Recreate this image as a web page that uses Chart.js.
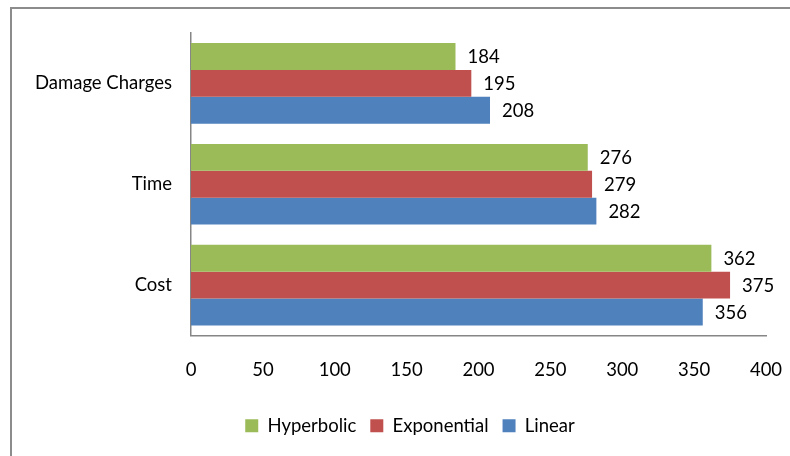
<!DOCTYPE html>
<html>
<head>
<meta charset="utf-8">
<script src="https://cdn.jsdelivr.net/npm/chart.js@4"></script>
<style>
  html, body { margin: 0; padding: 0; background: #fff; }
  #wrap { width: 790px; height: 456px; }
</style>
</head>
<body>
<div id="wrap"><canvas id="myChart"></canvas></div>
<script>
const categories = ["Damage Charges", "Time", "Cost"];
const seriesNames = ["Hyperbolic", "Exponential", "Linear"];
const hyperbolic = [184, 276, 362];
const exponential = [195, 279, 375];
const linear = [208, 282, 356];
const xTicks = [0, 50, 100, 150, 200, 250, 300, 350, 400];
const colors = ["#9BBB59", "#C0504D", "#4F81BD"];

const fontFamily = "Lato, 'Open Sans', sans-serif";
const fontSize = 18.5;

// frame around the whole chart
const framePlugin = {
  id: "frame",
  beforeDraw(chart) {
    const c = chart.ctx;
    c.save();
    c.fillStyle = "#fff";
    c.fillRect(0, 0, chart.width, chart.height);
    c.strokeStyle = "#8c8c8c";
    c.lineWidth = 2;
    c.strokeRect(11, 8, 900, 600);
    c.restore();
  },
  // legend sits a bit right of the canvas centre in the original
  afterLayout(chart) {
    chart.legend.left += 27;
    chart.legend.right += 27;
  },
};

// value labels at the end of each bar
const valueLabels = {
  id: "valueLabels",
  afterDatasetsDraw(chart) {
    const c = chart.ctx;
    c.save();
    c.font = fontSize + "px " + fontFamily;
    c.fillStyle = "#000";
    c.textBaseline = "middle";
    c.textAlign = "left";
    chart.data.datasets.forEach((ds, i) => {
      chart.getDatasetMeta(i).data.forEach((bar, j) => {
        c.fillText(ds.data[j], bar.x + 12, bar.y + 1);
      });
    });
    c.restore();
  },
};

const ctx = document.getElementById("myChart");
new Chart(ctx, {
  type: "bar",
  data: {
    labels: categories,
    datasets: [hyperbolic, exponential, linear].map((d, i) => ({
      label: seriesNames[i],
      data: d,
      backgroundColor: colors[i],
      borderWidth: 0,
      categoryPercentage: 0.8,
      barPercentage: 1.0,
    })),
  },
  options: {
    indexAxis: "y",
    responsive: true,
    maintainAspectRatio: false,
    animation: false,
    layout: { padding: { top: 33, right: 24, left: 0, bottom: 11 } },
    plugins: {
      legend: {
        position: "bottom",
        labels: {
          boxWidth: 13,
          boxHeight: 13,
          color: "#000",
          padding: 14,
          font: { family: fontFamily, size: fontSize },
        },
      },
      tooltip: { enabled: false },
    },
    scales: {
      x: {
        min: 0,
        max: 400,
        afterBuildTicks(scale) {
          scale.ticks = xTicks.map((v) => ({ value: v }));
        },
        grid: { display: false, drawTicks: false },
        border: { display: true, color: "#868686", width: 1.5 },
        ticks: {
          color: "#000",
          padding: 23,
          font: { family: fontFamily, size: fontSize },
        },
        afterFit(scale) {
          scale.height = 67;
          scale.paddingLeft = 0;
          scale.paddingRight = 0;
        },
      },
      y: {
        grid: { display: false, drawTicks: false },
        border: { display: true, color: "#868686", width: 1.5 },
        ticks: {
          color: "#000",
          padding: 19,
          font: { family: fontFamily, size: fontSize },
        },
        afterFit(scale) {
          scale.width = 191;
          scale.paddingTop = 0;
          scale.paddingBottom = 0;
        },
      },
    },
  },
  plugins: [framePlugin, valueLabels],
});
</script>
</body>
</html>
